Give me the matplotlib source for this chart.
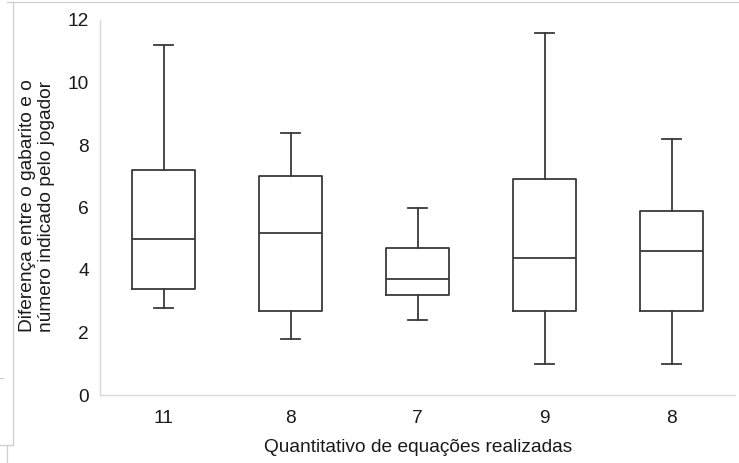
import matplotlib.pyplot as plt
from matplotlib.lines import Line2D

plt.rcParams['font.family'] = ['Liberation Sans', 'DejaVu Sans']

# categories (number of equations done) and the five-number summaries
labels = ['11', '8', '7', '9', '8']
whislo = [2.8, 1.8, 2.4, 1.0, 1.0]
q1 = [3.4, 2.7, 3.2, 2.7, 2.7]
med = [5.0, 5.2, 3.7, 4.4, 4.6]
q3 = [7.2, 7.0, 4.7, 6.9, 5.9]
whishi = [11.2, 8.4, 6.0, 11.6, 8.2]

stats = []
for i in range(len(labels)):
    stats.append({'whislo': whislo[i], 'q1': q1[i], 'med': med[i],
                  'q3': q3[i], 'whishi': whishi[i], 'fliers': [],
                  'label': labels[i]})

fig = plt.figure(figsize=(7.39, 4.63), dpi=100)
ax = fig.add_axes([100/739, 1-395/463, 635/739, 375/463])

c = '#3a3a3a'
lw = 1.3
ax.bxp(stats, positions=range(1, 6), widths=0.5, capwidths=0.145,
       showfliers=False,
       boxprops=dict(color=c, linewidth=lw),
       whiskerprops=dict(color=c, linewidth=lw),
       capprops=dict(color=c, linewidth=lw),
       medianprops=dict(color=c, linewidth=lw))

fs = 13.8
ax.set_xlim(0.5, 5.5)
ax.set_ylim(0, 12)
ax.set_yticks(range(0, 13, 2))
ax.tick_params(length=0, labelsize=fs, colors='#1a1a1a')
ax.tick_params(axis='y', pad=8)
ax.tick_params(axis='x', pad=11)

for s in ['top', 'right']:
    ax.spines[s].set_visible(False)
for s in ['left', 'bottom']:
    ax.spines[s].set_color('#d9d9d9')
    ax.spines[s].set_linewidth(1.0)

fig.text(418/739, 1-447/463, 'Quantitativo de equações realizadas',
         ha='center', va='center', fontsize=fs, color='#1a1a1a')
fig.text(37/739, 1-206/463,
         'Diferença entre o gabarito e o\nnúmero indicado pelo jogador',
         ha='center', va='center', rotation=90, fontsize=fs,
         color='#1a1a1a', linespacing=1.08)

# screenshot frame edges
g = '#cfcfcf'
def fl(xs, ys):
    fig.add_artist(Line2D([x/739 for x in xs], [1-y/463 for y in ys],
                          color=g, linewidth=0.9))
fl([7, 739], [2, 2])
fl([13, 13], [2, 445])
fl([0, 13], [445, 445])
fl([7, 7], [445, 463])
fl([0, 3], [378, 378])

fig.savefig('out.png', dpi=100)
